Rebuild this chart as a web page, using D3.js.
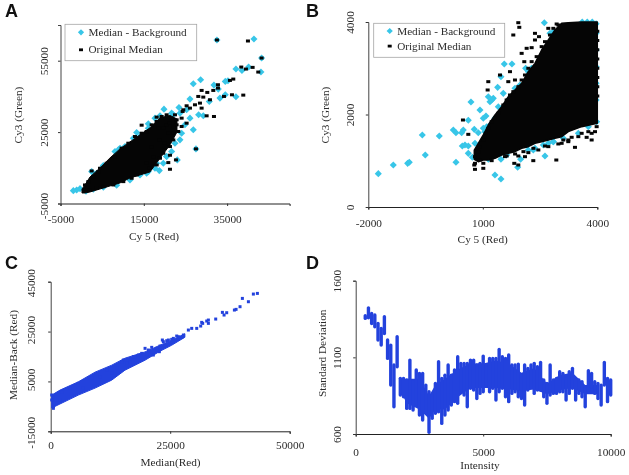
<!DOCTYPE html>
<html>
<head>
<meta charset="utf-8">
<script src="https://cdn.jsdelivr.net/npm/d3@7"></script>
<style>
  html, body { margin: 0; background: #fff; }
  svg { display: block; filter: blur(0.35px); }
  text { font-family: "Liberation Serif", serif; fill: #2b2b2b; }
  .letter { font-family: "Liberation Sans", sans-serif; font-weight: bold; font-size: 18px; fill: #111; }
</style>
</head>
<body>
<script>
const CYAN = '#38c6e8', BLACK = '#050505', BLUE = '#2342dd';

// A: Cy5 vs Cy3, full range. cloud rows are [cy5, low, high]
const aCloud = [[160,-580,1105],[880,-580,2790],[2080,-160,6160],[4480,1105,9950],[6880,2370,14150],[9280,3630,17950],
  [11680,5740,20890],[14080,7000,23840],[16480,8260,26790],[18880,14000,31000],[21280,19630,32000],[22960,25000,30500]];
const aCyan = [[41440,64120],[32560,63700],[43280,56120],[43120,50230],[37120,51490],[38560,50930],[40160,52330],
  [28640,47000],[26880,45315],[35200,46580],[34560,46300],[31840,44750],[32880,43070],[33280,39280],[34560,40680],
  [37120,39840],[26080,38860],[30720,37880],[29280,31840],[28160,32260],[26880,25950],[27520,17950],[23440,35350],
  [19840,34650],[18880,31840],[16080,28470],[13280,24820],[9280,18230],[5280,10930],[2480,8400],[23040,13320],
  [18720,8820],[20480,14720],[8480,2650],[-1120,680],[-1920,400],[-320,1245],[1120,120],[21680,32965],[24080,24540],
  [18080,11910],[15680,7700],
  [2080,4193],[3680,7702],[4880,9807],[6880,11912],[8080,16825],[8880,17527],[10480,18930],[12480,22439],[14080,23140],
  [16080,26649],[17680,30860],[20480,30860],[22080,32263],[23680,32965],[25280,34368],[26080,30860],[24880,28053],
  [23680,21737],[22480,20334],[21680,16825],[20480,14719],[19680,11912],[17680,9807],[16080,8404],[14080,7000],
  [11680,4895],[5280,1808],[2880,966]];
const aBlack = [[40000,63280],[32560,63700],[43280,56120],[42480,50230],[41120,52190],[39520,51490],[38400,52330],
  [36480,47280],[35680,46720],[32800,44890],[32800,43490],[31680,42510],[30240,41670],[28880,42510],[28080,39980],
  [29280,39700],[30880,38580],[36160,40680],[34240,39980],[38880,40540],[28480,37180],[27280,36470],[28880,35070],
  [30080,31840],[31840,31560],[27520,17950],[25280,36050],[24320,33670],[22880,30160],[24080,27350],[22080,24540],
  [22720,13320],[21280,9390],[20880,12190],[21280,15280],[14480,27910],[2480,8680],[18080,31280],
  [4480,9807],[6080,11912],[8080,14719],[9680,18228],[11280,20334],[12880,23140],[14480,24544],[15680,25246],[16880,28053],
  [18080,29456],[19280,31561],[20480,32263],[21680,30860],[22880,28053],[19680,26649],[20880,24544],[22080,21737],
  [21280,18930],[19680,16123],[18880,14018],[18080,11210],[16480,9807],[14880,8404],[13280,7000],[12080,5597],[10080,4193],
  [7680,2790],[5280,2088],[3680,1386],[1920,684],[880,2790],[1680,4193],[2880,6298],[4080,8404],[20480,28053],[18480,26649],
  [18880,21737],[20080,20334],[16880,18930],[17280,14719],[15680,11912],[21280,28753],[22480,32263],[24480,34368],
  [26080,35070],[24080,30860],[25280,28753],[22080,27351],[23280,25246]];

// B: Cy5 vs Cy3, zoomed on the low end
const bCloud = [[777,1031,1232],[882,980,1377],[1013,1016,1557],[1144,1016,1773],[1319,1052,1989],[1494,1124,2169],
  [1668,1160,2385],[1843,1196,2530],[2018,1268,2674],[2192,1304,2926],[2367,1377,3106],[2542,1413,3394],[2716,1449,3611],
  [2891,1485,3827],[3066,1521,3971],[3240,1629,3985],[3590,1737,4000],[4000,1809,4000]];
const bCyan = [[-1738,721],[-1345,908],[-969,944],[-926,966],[-585,1557],[-507,1124],[-140,1535],[227,1665],[297,1607],
  [297,966],[446,1607],[489,1665],[463,1319],[533,1340],[620,1319],[620,1160],[620,1874],[690,2270],[926,2097],[777,1679],
  [882,1607],[1013,1917],[1083,1967],[725,1074],[1144,2385],[1232,2313],[1188,2277],[1275,2349],[1389,2587],[1537,2457],
  [1476,2818],[1563,3092],[1764,3092],[2122,2998],[2612,3985],[1319,692],[1476,605],[1913,858],[1991,1031],[2629,1103],
  [2323,1232],[2847,1413],[2585,1340],[1013,1701],[1100,1737],[1406,2169],[1319,1917],[795,1377],[1476,1031],
  [1057,1629],[1188,1773],[1363,1954],[1494,2134],[1668,2314],[1843,2566],[1975,2638],[2193,2926],[2280,2998],[2542,3215],
  [2760,3755],[2848,3791],[1144,1031],[1625,1125],[2193,1233],[2367,1269],[2717,1377],[2848,1413],[3110,1485],[3503,1593],
  [3765,1737],[3983,1845],[3970,2314],[3970,2674],[3970,3034],[3970,3394],[3970,3755],[3970,3960],[3868,4000],[3737,4000],[3606,4000]];
const bBlack = [[1930,3985],[1956,3885],[1799,3719],[480,1881],[620,1571],[777,908],[1013,836],[795,814],[1825,944],
  [1930,908],[2926,1016],[2323,1002],[2105,1088],[3415,1290],[3852,1449],[3721,1506],[3240,1413],[3066,1377],[3590,1593],
  [1144,2710],[1127,2530],[1450,2854],[1712,2926],[1843,2746],[1668,2710],[2018,3322],[2149,3431],[2280,3445],[2087,3142],
  [2367,3611],[2472,3683],[2367,3755],[2716,3863],[2935,3957],
  [795,1088],[883,1197],[926,1305],[1014,1449],[1075,1593],[1145,1701],[1232,1845],[1319,1917],[1407,2026],[1538,2206],
  [1625,2314],[1712,2422],[1800,2494],[1931,2602],[2018,2746],[2105,2854],[2193,2999],[2280,3143],[2411,3251],[2542,3467],
  [2630,3575],[2760,3719],[2848,3863],[2979,3935],[795,945],[926,1017],[1014,945],[1232,1002],[1581,1089],[1931,1103],
  [2193,1175],[2455,1233],[2717,1305],[2979,1363],[3241,1449],[3503,1521],[3765,1629],[3940,1629],[3983,1737],[3852,1593],
  [3328,1507],[3110,1449],[2630,1319],[2326,1269],[2065,1197],[1846,1146],[1625,1103],
  [4000,2400],[4000,2600],[4000,2800],[4000,3000],[4000,3200],[4000,3400],[4000,3600],[4000,3800]];

// C: median vs median minus background
const cCloud = [[209,-5680,-480],[1945,-4040,1520],[5774,-480,4840],[9270,2320,8720],[12760,5520,11520],[15540,9520,14320],
  [19730,13520,16840],[22860,17120,19520],[25310,19520,21520],[28070,22720,24120]];
const cPoints = [[43240,40310],[42400,40040],[41360,36970],[40100,38300],[39610,34970],[38780,33900],[38430,33630],
  [36820,32560],[35920,32700],[36270,31630],[34520,30020],[32990,29620],[32640,29220],[32990,28290],[31590,28690],
  [31380,27220],[31800,28290],[30550,26280],[29500,26280],[28800,25610],[27760,23610],[26710,22940],[25660,22270],
  [24620,21610],[23570,20940],[22730,16930],[23360,21610],[21480,15590],[19740,18270],[17640,14930],[15200,13590],
  [560,-5110],[210,-2440],
  [27408,22675],[26362,23209],[25316,21873],[24270,21339],[23921,19201],[22875,19201],[22177,18266],[21131,18667],
  [20434,17598],[20085,15595],[19039,16262],[18342,15595],[17296,14927],[16598,12922],[15901,12254],[14855,12922],
  [13809,10250],[12762,8246],[11716,9582],[10322,6908],[8578,6242],[6835,2233],[5788,4238],[4045,2233],[2301,897],
  [1255,-3777],[558,-1105],[1953,-2442],[209,-438],[558,-5783]];

// D: standard deviation by intensity, spread of the points in each column [intensity, low, high]
const dRanges = [[375,1354,1371],[500,1358,1423],[625,1321,1386],[750,1300,1376],[875,1213,1321],[1000,1180,1289],
  [1125,1256,1365],[1250,1093,1213],[1375,919,1180],[1500,778,1050],[1625,1039,1234],[1750,854,963],[1875,843,963],
  [2000,767,952],[2125,767,1082],[2250,756,941],[2375,789,1017],[2500,724,995],[2625,691,995],[2750,745,919],[2875,611,876],
  [3000,702,854],[3125,735,930],[3250,745,1071],[3375,669,963],[3500,724,984],[3625,756,1050],[3750,789,984],[3875,811,1017],
  [4000,800,1104],[4125,876,1060],[4250,854,1060],[4375,778,1060],[4500,898,1082],[4625,887,1082],[4750,832,1050],
  [4875,865,1061],[5000,876,1108],[5125,919,1039],[5250,876,1093],[5375,898,1093],[5500,822,1093],[5625,876,1152],
  [5750,898,1104],[5875,843,1093],[6000,811,1115],[6125,865,1050],[6250,876,1050],[6375,843,1056],[6500,832,985],
  [6625,789,1050],[6750,887,1028],[6875,908,1050],[7000,865,1061],[7125,887,1039],[7250,887,1067],[7375,843,952],
  [7500,800,930],[7625,854,1050],[7750,865,952],[7875,865,963],[8000,876,1006],[8125,876,995],[8250,822,963],[8375,865,1006],
  [8500,898,1028],[8625,822,952],[8750,865,952],[8875,843,941],[9000,778,898],[9125,876,1013],[9250,909,995],[9375,865,941],
  [9500,832,930],[9625,789,919],[9750,919,1067],[9875,811,963],[10000,854,952]];
// the solid core of the same band
const dCore = [[1750,880,950],[2000,800,960],[2500,760,960],[2875,700,850],[3125,760,920],[3500,760,960],[4000,840,1020],
  [4500,900,1060],[5000,900,1060],[5500,900,1080],[6000,890,1060],[6500,880,1000],[7000,890,1030],[7500,860,930],
  [8000,885,985],[8500,900,1000],[9000,860,920],[9500,860,920]];

const legendLabels = ['Median - Background', 'Original Median'];

const svg = d3.select('body').append('svg').attr('width', 629).attr('height', 475);

// sets up scales, axes and titles for one panel
function panel(o) {
  const x = d3.scaleLinear().domain(o.xDomain).range(o.xRange);
  const y = d3.scaleLinear().domain(o.yDomain).range(o.yRange);
  const g = svg.append('g');

  const gx = g.append('g').attr('transform', `translate(0,${o.yRange[0]})`)
    .call(d3.axisBottom(x).tickValues(o.xTicks).tickFormat(String).tickSize(2.5).tickPadding(o.xPad));
  const gy = g.append('g').attr('transform', `translate(${o.xRange[0]},0)`)
    .call(d3.axisLeft(y).tickValues(o.yTicks).tickFormat(String).tickSize(2.5));
  gx.select('.domain').attr('stroke', '#222');
  gy.select('.domain').attr('stroke', '#444');
  g.selectAll('.tick line').attr('stroke', '#333');
  gx.selectAll('text').attr('font-size', 11.3);
  // y tick labels stand rotated, left of the axis
  gy.selectAll('.tick text').attr('font-size', 11.3)
    .attr('text-anchor', 'middle').attr('dy', 0).attr('x', 0).attr('y', 0)
    .attr('transform', d => `translate(${o.yLabelX - o.xRange[0]},${o.yLabelShift ? o.yLabelShift(d) : 0}) rotate(-90)`);
  g.selectAll('.tick text').attr('fill', null);
  gx.attr('font-family', null);
  gy.attr('font-family', null);

  g.append('text').attr('x', o.xTitle[0]).attr('y', o.xTitle[1]).attr('text-anchor', 'middle')
    .attr('font-size', 11.3).text(o.xLabel);
  g.append('text').attr('transform', `translate(${o.yTitle[0]},${o.yTitle[1]}) rotate(-90)`)
    .attr('text-anchor', 'middle').attr('font-size', 11.3).text(o.yLabel);
  g.append('text').attr('class', 'letter').attr('x', o.letter[0]).attr('y', o.letter[1]).text(o.name);
  return { x, y, g };
}

function cloud(p, rows, fill, stroke, width) {
  const area = d3.area().x(d => p.x(d[0])).y0(d => p.y(d[1])).y1(d => p.y(d[2]));
  p.g.append('path').datum(rows).attr('d', area).attr('fill', fill)
    .attr('stroke', stroke).attr('stroke-width', width).attr('stroke-linejoin', 'round');
}

function diamonds(p, pts, size) {
  p.g.append('g').selectAll('rect').data(pts).join('rect')
    .attr('x', -size / 2).attr('y', -size / 2).attr('width', size).attr('height', size)
    .attr('fill', CYAN)
    .attr('transform', d => `translate(${p.x(d[0])},${p.y(d[1])}) rotate(45)`);
}

function squares(p, pts, w, h, color) {
  p.g.append('g').selectAll('rect').data(pts).join('rect')
    .attr('x', d => p.x(d[0]) - w / 2).attr('y', d => p.y(d[1]) - h / 2)
    .attr('width', w).attr('height', h).attr('fill', color);
}

function legend(p, box) {
  p.g.append('rect').attr('x', box[0]).attr('y', box[1]).attr('width', box[2]).attr('height', box[3])
    .attr('fill', '#fff').attr('stroke', '#a5a5a5').attr('stroke-width', 0.8);
  const mx = box[0] + 16;
  p.g.append('rect').attr('x', -2.2).attr('y', -2.2).attr('width', 4.4).attr('height', 4.4).attr('fill', CYAN)
    .attr('transform', `translate(${mx},${box[4]}) rotate(45)`);
  p.g.append('rect').attr('x', mx - 2).attr('y', box[5] - 1.3).attr('width', 4).attr('height', 2.8).attr('fill', BLACK);
  legendLabels.forEach((t, i) => {
    p.g.append('text').attr('x', mx + 7.5).attr('y', box[4 + i] + 3.6)
      .attr('font-size', 11.2).text(t);
  });
}

const pa = panel({ name: 'A', letter: [5, 17],
  xDomain: [-5000, 50000], xRange: [60.5, 289.6], yDomain: [-5000, 70000], yRange: [203.5, 25],
  xTicks: [-5000, 15000, 35000], yTicks: [-5000, 25000, 55000], xPad: 9, yLabelX: 48,
  yLabelShift: d => d < 0 ? 2 : 0,
  xLabel: 'Cy 5 (Red)', yLabel: 'Cy3 (Green)', xTitle: [154, 239.5], yTitle: [22, 115] });
const pb = panel({ name: 'B', letter: [306, 17],
  xDomain: [-2000, 4000], xRange: [368.3, 597.3], yDomain: [0, 4000], yRange: [207, 22],
  xTicks: [-2000, 1000, 4000], yTicks: [0, 2000, 4000], xPad: 9, yLabelX: 354,
  xLabel: 'Cy 5 (Red)', yLabel: 'Cy3 (Green)', xTitle: [482.7, 243], yTitle: [329, 115] });
const pc = panel({ name: 'C', letter: [5, 269],
  xDomain: [0, 50000], xRange: [50.7, 289.7], yDomain: [-15000, 45000], yRange: [431.3, 281.7],
  xTicks: [0, 25000, 50000], yTicks: [-15000, 5000, 25000, 45000], xPad: 7, yLabelX: 35,
  yLabelShift: d => d === 45000 ? 1 : d === -15000 ? 1 : -2,
  xLabel: 'Median(Red)', yLabel: 'Median-Back (Red)', xTitle: [170.5, 465.7], yTitle: [16.7, 355] });
const pd = panel({ name: 'D', letter: [306, 269],
  xDomain: [0, 10000], xRange: [355.7, 610.7], yDomain: [600, 1600], yRange: [434, 280.7],
  xTicks: [0, 5000, 10000], yTicks: [600, 1100, 1600], xPad: 11, yLabelX: 340.7,
  xLabel: 'Intensity', yLabel: 'Standard Deviation', xTitle: [480, 469], yTitle: [325.7, 353.3] });

diamonds(pa, aCyan, 5);
cloud(pa, aCloud, BLACK, BLACK, 1);
squares(pa, aBlack, 4, 3, BLACK);
legend(pa, [65, 24.3, 131.7, 36.4, 32.3, 49.7]);

diamonds(pb, bCyan, 5);
cloud(pb, bCloud, BLACK, BLACK, 1.5);
squares(pb, bBlack, 4, 3, BLACK);
legend(pb, [373.7, 23.3, 131, 34, 31, 46]);

cloud(pc, cCloud, BLUE, BLUE, 1);
squares(pc, cPoints, 3, 3, BLUE);

cloud(pd, dCore, BLUE, 'none', 0);
pd.g.append('g').selectAll('line').data(dRanges).join('line')
  .attr('x1', d => pd.x(d[0])).attr('x2', d => pd.x(d[0]))
  .attr('y1', d => pd.y(d[1])).attr('y2', d => pd.y(d[2]))
  .attr('stroke', BLUE).attr('stroke-width', 3.4).attr('stroke-linecap', 'round');
</script>
</body>
</html>
